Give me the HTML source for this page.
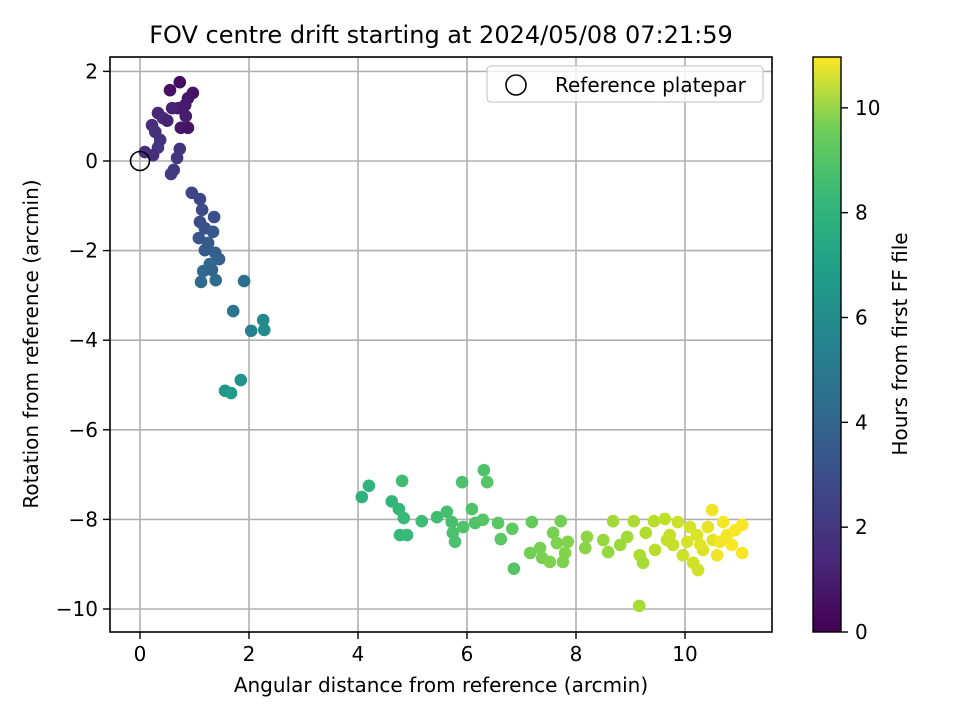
<!DOCTYPE html>
<html><head><meta charset="utf-8"><style>
html,body{margin:0;padding:0;background:#fff;}
svg text{font-family:"DejaVu Sans","Liberation Sans",sans-serif;fill:#000;}
</style></head><body>
<svg id="chart" width="960" height="720" xmlns="http://www.w3.org/2000/svg">
<defs>
<linearGradient id="vir" x1="0" y1="1" x2="0" y2="0">
<stop offset="0" stop-color="#440154"/><stop offset="0.125" stop-color="#482878"/><stop offset="0.25" stop-color="#3e4989"/><stop offset="0.375" stop-color="#31688e"/><stop offset="0.5" stop-color="#26828e"/><stop offset="0.625" stop-color="#1f9e89"/><stop offset="0.75" stop-color="#35b779"/><stop offset="0.875" stop-color="#6ece58"/><stop offset="1" stop-color="#fde725"/>
</linearGradient>
</defs>
<g id="grid"></g>
<g id="points"></g>
<rect x="110" y="57" width="662" height="575" fill="none" stroke="#000" stroke-width="1.6"/>
<g id="ticks"></g>
<text x="441" y="43" font-size="24" text-anchor="middle">FOV centre drift starting at 2024/05/08 07:21:59</text>
<text x="441" y="692" font-size="20" text-anchor="middle">Angular distance from reference (arcmin)</text>
<text transform="translate(38,344) rotate(-90)" font-size="20" text-anchor="middle">Rotation from reference (arcmin)</text>
<g>
<rect x="487" y="66" width="276" height="36" rx="4" fill="#fff" fill-opacity="0.8" stroke="#ccc" stroke-width="1.3"/>
<circle cx="516" cy="85" r="10" fill="none" stroke="#000" stroke-width="1.6"/>
<text x="555" y="92" font-size="20">Reference platepar</text>
</g>
<g>
<rect x="813" y="57" width="28" height="575" fill="url(#vir)" stroke="#000" stroke-width="1.4"/>
<g id="cbticks"></g>
<text transform="translate(907,344) rotate(-90)" font-size="20" text-anchor="middle">Hours from first FF file</text>
</g>
</svg>
<script>
const xs=[0.55,0.73,0.97,0.88,0.83,0.7,0.59,0.84,0.75,0.88,0.33,0.42,0.5,0.22,0.28,0.37,0.33,0.24,0.09,0.73,0.68,0.62,0.57,
0.95,1.1,1.14,1.36,1.1,1.19,1.34,1.08,1.25,1.19,1.38,1.45,1.28,1.16,1.32,1.12,1.39,1.91,1.71,2.26,2.04,2.28,1.85,1.56,1.67,
4.07,4.2,4.81,4.62,4.75,4.84,4.77,4.9,5.17,5.45,5.63,5.72,5.74,5.78,5.93,5.91,6.09,6.15,6.29,6.31,6.37,6.57,6.62,6.83,6.86,
7.19,7.16,7.34,7.38,7.52,7.58,7.72,7.65,7.8,7.76,7.85,8.2,8.17,8.5,8.59,8.68,8.94,8.81,9.06,9.17,9.23,9.16,9.28,9.43,9.45,
9.63,9.67,9.87,9.78,9.96,10.09,10.15,10.24,10.04,10.33,10.42,10.5,10.51,10.59,10.7,10.77,10.86,10.92,11.05,11.05,10.22,10.64,9.72,10.28];
const ys=[1.58,1.76,1.52,1.4,1.25,1.18,1.18,1.0,0.74,0.74,1.07,0.96,0.9,0.8,0.65,0.47,0.3,0.13,0.2,0.27,0.07,-0.2,-0.29,
-0.71,-0.85,-1.09,-1.25,-1.36,-1.5,-1.58,-1.72,-1.83,-1.99,-2.05,-2.19,-2.3,-2.46,-2.43,-2.7,-2.66,-2.68,-3.35,-3.55,-3.79,-3.77,-4.89,-5.13,-5.18,
-7.5,-7.25,-7.14,-7.6,-7.77,-7.97,-8.35,-8.35,-8.04,-7.95,-7.83,-8.06,-8.3,-8.5,-8.17,-7.17,-7.77,-8.08,-8.01,-6.9,-7.17,-8.08,-8.44,-8.21,-9.1,
-8.06,-8.75,-8.64,-8.86,-8.95,-8.3,-8.04,-8.53,-8.75,-8.95,-8.5,-8.39,-8.64,-8.46,-8.73,-8.04,-8.39,-8.57,-8.04,-8.8,-8.97,-9.93,-8.3,-8.04,-8.68,
-7.99,-8.46,-8.06,-8.57,-8.8,-8.17,-8.97,-9.13,-8.5,-8.68,-8.17,-7.79,-8.46,-8.8,-8.06,-8.35,-8.57,-8.24,-8.12,-8.75,-8.35,-8.5,-8.35,-8.57];
const hours=[0.5,0.4,0.6,0.7,0.8,0.9,1.0,0.9,0.7,0.6,1.2,1.3,1.1,1.4,1.5,1.6,1.7,1.4,1.5,1.7,1.8,1.9,1.9,
2.2,2.4,2.5,2.7,2.6,2.8,3.0,2.9,3.1,3.2,3.3,3.4,3.6,3.7,3.5,3.8,3.9,4.0,4.3,5.2,4.8,5.3,5.6,5.8,5.9,
7.0,7.1,7.6,7.2,7.3,7.4,7.3,7.4,7.5,7.6,7.7,7.7,7.8,7.8,7.9,7.8,7.9,7.9,8.0,7.9,8.0,8.1,8.1,8.2,8.0,
8.3,8.6,8.7,8.7,8.8,8.7,8.6,8.8,8.9,8.8,8.9,9.1,9.0,9.2,9.2,9.4,9.4,9.3,9.6,9.6,9.5,9.5,9.7,9.8,9.8,
9.9,10.0,10.1,10.0,10.1,10.3,10.2,10.2,10.3,10.4,10.6,10.7,10.5,10.7,10.8,10.8,10.9,10.9,10.9,10.9,10.4,10.8,10.0,10.5];
const xTicks=[0,2,4,6,8,10];
const yTicks=[2,0,-2,-4,-6,-8,-10];
const cTicks=[0,2,4,6,8,10];
const NS="http://www.w3.org/2000/svg";
const X=v=>140+v*54.5, Y=v=>161-v*44.8, C=v=>632-v*(575/10.97);
const vir=[[68,1,84],[72,40,120],[62,73,137],[49,104,142],[38,130,142],[31,158,137],[53,183,121],[110,206,88],[181,222,43],[253,231,37]];
function col(t){let f=Math.max(0,Math.min(1,t/10.97))*(vir.length-1);let i=Math.min(vir.length-2,Math.floor(f)),u=f-i;
const c=vir[i].map((a,k)=>Math.round(a+(vir[i+1][k]-a)*u));return `rgb(${c})`;}
function mk(tag,at,parent){const e=document.createElementNS(NS,tag);for(const k in at)e.setAttribute(k,at[k]);parent.appendChild(e);return e;}
const fmt=v=>v<0?"\u2212"+(-v):""+v;
const grid=document.getElementById('grid'),ticks=document.getElementById('ticks'),pts=document.getElementById('points'),cb=document.getElementById('cbticks');
xTicks.forEach(v=>{
 const g=mk('line',{x1:X(v),x2:X(v),y1:57,y2:632,stroke:'#b0b0b0','stroke-width':1.6},grid);
 
 
 const t=mk('line',{x1:X(v),x2:X(v),y1:632,y2:639,stroke:'#000','stroke-width':1.4},ticks);
 
 
 const l=mk('text',{x:X(v),y:661,'font-size':20,'text-anchor':'middle'},ticks);l.textContent=fmt(v);
 
 
});
yTicks.forEach(v=>{
 const g=mk('line',{x1:110,x2:772,y1:Y(v),y2:Y(v),stroke:'#b0b0b0','stroke-width':1.6},grid);
 
 
 const t=mk('line',{x1:103,x2:110,y1:Y(v),y2:Y(v),stroke:'#000','stroke-width':1.4},ticks);
 
 
 const l=mk('text',{x:98,y:Y(v)+7,'font-size':20,'text-anchor':'end'},ticks);l.textContent=fmt(v);
 
 
});
cTicks.forEach(v=>{
 const t=mk('line',{x1:841,x2:848,y1:C(v),y2:C(v),stroke:'#000','stroke-width':1.4},cb);
 
 
 const l=mk('text',{x:855,y:C(v)+7,'font-size':20},cb);l.textContent=fmt(v);
 
 
});
xs.forEach((x,i)=>{
 const c=mk('circle',{cx:X(x),cy:Y(ys[i]),r:6.3,fill:col(hours[i])},pts);
 
 
});
const ref=mk('circle',{cx:X(0),cy:Y(0),r:9.5,fill:'none',stroke:'#000','stroke-width':1.6},pts);


</script>
</body></html>
